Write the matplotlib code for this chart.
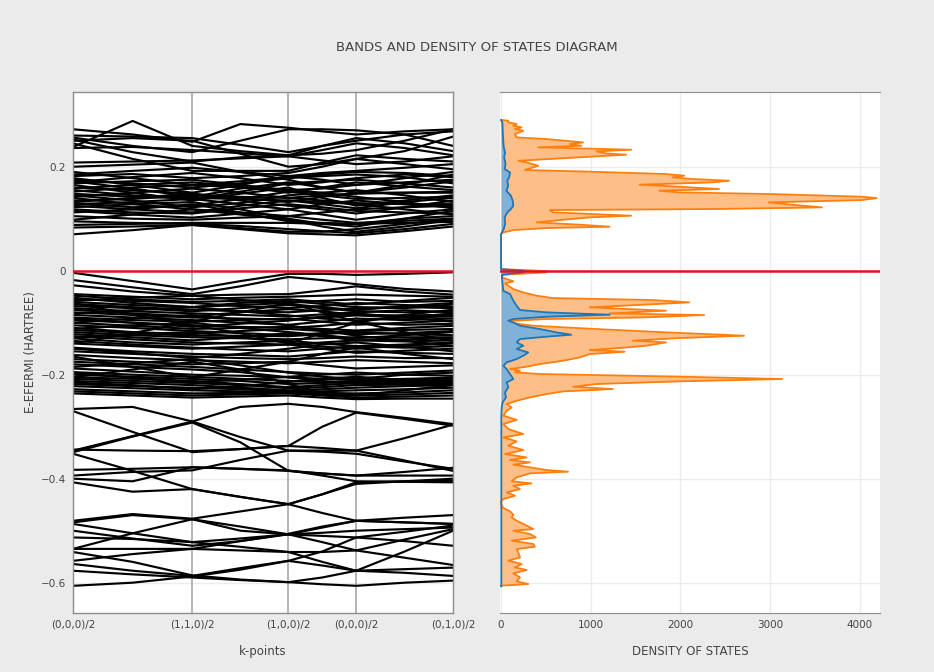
"""
Bands and density of states diagram
"""
import matplotlib
matplotlib.use("Agg")
import matplotlib.pyplot as plt

plt.rcParams['font.family'] = 'DejaVu Sans'
plt.rcParams['axes.unicode_minus'] = True

# k-path: high-symmetry points and their distance along the path
kpoint_labels = ['(0,0,0)/2', '(1,1,0)/2', '(1,0,0)/2', '(0,0,0)/2', '(0,1,0)/2']
kpoint_pos = [0.0, 0.3137, 0.5667, 0.7451, 1.0]
# energies are read at each high-symmetry point and half way along each segment
k_samples = [0.0, 0.1568, 0.3137, 0.4402, 0.5667, 0.6559, 0.7451, 0.8726, 1.0]

conduction_bands = [
    [0.238, 0.288, 0.240, 0.230, 0.222, 0.225, 0.232, 0.250, 0.272],
    [0.272, 0.262, 0.248, 0.282, 0.275, 0.268, 0.262, 0.268, 0.272],
    [0.256, 0.240, 0.228, 0.250, 0.272, 0.272, 0.270, 0.262, 0.240],
    [0.252, 0.228, 0.210, 0.218, 0.222, 0.240, 0.255, 0.245, 0.230],
    [0.250, 0.255, 0.250, 0.225, 0.200, 0.205, 0.215, 0.230, 0.258],
    [0.245, 0.215, 0.192, 0.192, 0.192, 0.208, 0.222, 0.215, 0.210],
    [0.236, 0.238, 0.232, 0.226, 0.220, 0.232, 0.245, 0.236, 0.222],
    [0.260, 0.258, 0.255, 0.242, 0.228, 0.240, 0.250, 0.262, 0.268],
    [0.208, 0.210, 0.212, 0.216, 0.220, 0.212, 0.205, 0.210, 0.220],
    [0.200, 0.204, 0.208, 0.190, 0.175, 0.160, 0.150, 0.165, 0.185],
    [0.190, 0.178, 0.165, 0.172, 0.180, 0.185, 0.190, 0.188, 0.182],
    [0.185, 0.192, 0.198, 0.190, 0.182, 0.188, 0.192, 0.198, 0.205],
    [0.182, 0.186, 0.178, 0.182, 0.188, 0.200, 0.215, 0.205, 0.195],
    [0.178, 0.165, 0.150, 0.165, 0.182, 0.175, 0.165, 0.170, 0.175],
    [0.175, 0.168, 0.160, 0.168, 0.178, 0.182, 0.185, 0.180, 0.168],
    [0.172, 0.158, 0.142, 0.158, 0.170, 0.160, 0.150, 0.150, 0.150],
    [0.170, 0.180, 0.188, 0.178, 0.165, 0.170, 0.178, 0.185, 0.180],
    [0.168, 0.172, 0.175, 0.165, 0.155, 0.158, 0.165, 0.178, 0.190],
    [0.165, 0.150, 0.135, 0.148, 0.160, 0.140, 0.125, 0.135, 0.145],
    [0.160, 0.155, 0.148, 0.140, 0.132, 0.142, 0.150, 0.160, 0.172],
    [0.158, 0.165, 0.170, 0.162, 0.150, 0.160, 0.170, 0.162, 0.155],
    [0.155, 0.145, 0.138, 0.152, 0.168, 0.172, 0.175, 0.168, 0.160],
    [0.152, 0.160, 0.165, 0.160, 0.155, 0.150, 0.142, 0.132, 0.120],
    [0.148, 0.142, 0.140, 0.138, 0.135, 0.128, 0.120, 0.132, 0.140],
    [0.145, 0.135, 0.122, 0.130, 0.145, 0.150, 0.155, 0.145, 0.132],
    [0.142, 0.150, 0.158, 0.150, 0.140, 0.145, 0.148, 0.150, 0.152],
    [0.140, 0.128, 0.118, 0.112, 0.105, 0.112, 0.118, 0.122, 0.125],
    [0.135, 0.138, 0.145, 0.142, 0.140, 0.135, 0.130, 0.128, 0.128],
    [0.132, 0.140, 0.148, 0.135, 0.125, 0.118, 0.110, 0.122, 0.135],
    [0.130, 0.122, 0.125, 0.138, 0.152, 0.145, 0.138, 0.140, 0.142],
    [0.128, 0.132, 0.138, 0.128, 0.118, 0.108, 0.098, 0.110, 0.118],
    [0.125, 0.118, 0.112, 0.125, 0.135, 0.132, 0.128, 0.118, 0.108],
    [0.122, 0.128, 0.132, 0.118, 0.100, 0.090, 0.085, 0.100, 0.115],
    [0.118, 0.112, 0.110, 0.120, 0.128, 0.122, 0.115, 0.112, 0.110],
    [0.115, 0.108, 0.102, 0.110, 0.118, 0.128, 0.135, 0.128, 0.122],
    [0.112, 0.118, 0.128, 0.112, 0.095, 0.092, 0.090, 0.100, 0.105],
    [0.105, 0.100, 0.098, 0.102, 0.105, 0.098, 0.092, 0.096, 0.100],
    [0.098, 0.108, 0.118, 0.108, 0.098, 0.085, 0.075, 0.085, 0.098],
    [0.095, 0.092, 0.090, 0.086, 0.080, 0.076, 0.072, 0.080, 0.090],
    [0.088, 0.090, 0.092, 0.092, 0.092, 0.090, 0.090, 0.092, 0.094],
    [0.083, 0.085, 0.088, 0.082, 0.075, 0.075, 0.080, 0.090, 0.100],
    [0.070, 0.078, 0.088, 0.080, 0.072, 0.070, 0.068, 0.076, 0.085],
]

valence_bands = [
    [-0.004, -0.020, -0.036, -0.020, -0.006, -0.006, -0.008, -0.006, -0.003],
    [-0.018, -0.032, -0.045, -0.030, -0.012, -0.018, -0.026, -0.035, -0.040],
    [-0.028, -0.040, -0.048, -0.046, -0.045, -0.038, -0.030, -0.040, -0.046],
    [-0.045, -0.050, -0.055, -0.052, -0.050, -0.048, -0.046, -0.048, -0.050],
    [-0.048, -0.055, -0.060, -0.058, -0.055, -0.060, -0.065, -0.058, -0.052],
    [-0.052, -0.062, -0.070, -0.066, -0.062, -0.058, -0.055, -0.060, -0.058],
    [-0.055, -0.058, -0.062, -0.068, -0.072, -0.068, -0.062, -0.066, -0.070],
    [-0.058, -0.052, -0.048, -0.056, -0.064, -0.070, -0.076, -0.068, -0.062],
    [-0.060, -0.066, -0.070, -0.062, -0.058, -0.064, -0.070, -0.072, -0.065],
    [-0.062, -0.085, -0.105, -0.120, -0.140, -0.120, -0.100, -0.085, -0.075],
    [-0.064, -0.070, -0.075, -0.078, -0.080, -0.076, -0.072, -0.070, -0.072],
    [-0.068, -0.072, -0.078, -0.072, -0.066, -0.072, -0.078, -0.080, -0.078],
    [-0.072, -0.078, -0.082, -0.085, -0.088, -0.084, -0.080, -0.076, -0.080],
    [-0.075, -0.082, -0.088, -0.080, -0.074, -0.078, -0.085, -0.086, -0.085],
    [-0.080, -0.085, -0.090, -0.092, -0.094, -0.090, -0.086, -0.090, -0.088],
    [-0.082, -0.076, -0.070, -0.078, -0.086, -0.092, -0.096, -0.090, -0.082],
    [-0.085, -0.090, -0.095, -0.100, -0.104, -0.098, -0.092, -0.095, -0.092],
    [-0.090, -0.095, -0.098, -0.095, -0.092, -0.098, -0.104, -0.100, -0.096],
    [-0.092, -0.100, -0.108, -0.102, -0.096, -0.088, -0.082, -0.090, -0.098],
    [-0.095, -0.100, -0.105, -0.108, -0.110, -0.106, -0.100, -0.104, -0.102],
    [-0.100, -0.092, -0.085, -0.095, -0.105, -0.115, -0.125, -0.135, -0.145],
    [-0.100, -0.106, -0.112, -0.110, -0.108, -0.112, -0.115, -0.110, -0.106],
    [-0.105, -0.110, -0.116, -0.120, -0.124, -0.120, -0.116, -0.114, -0.112],
    [-0.110, -0.118, -0.122, -0.116, -0.112, -0.116, -0.122, -0.120, -0.116],
    [-0.112, -0.105, -0.100, -0.110, -0.118, -0.124, -0.130, -0.124, -0.118],
    [-0.114, -0.120, -0.125, -0.125, -0.126, -0.122, -0.118, -0.122, -0.124],
    [-0.118, -0.124, -0.128, -0.130, -0.132, -0.130, -0.128, -0.128, -0.128],
    [-0.122, -0.128, -0.134, -0.128, -0.120, -0.126, -0.134, -0.132, -0.130],
    [-0.126, -0.132, -0.138, -0.140, -0.142, -0.138, -0.134, -0.136, -0.134],
    [-0.128, -0.122, -0.118, -0.128, -0.138, -0.146, -0.150, -0.144, -0.140],
    [-0.130, -0.138, -0.142, -0.138, -0.135, -0.140, -0.145, -0.142, -0.138],
    [-0.135, -0.142, -0.148, -0.152, -0.155, -0.150, -0.145, -0.148, -0.145],
    [-0.140, -0.120, -0.098, -0.080, -0.062, -0.080, -0.098, -0.118, -0.135],
    [-0.140, -0.145, -0.150, -0.146, -0.142, -0.150, -0.158, -0.154, -0.150],
    [-0.148, -0.155, -0.160, -0.162, -0.165, -0.160, -0.155, -0.158, -0.160],
    [-0.150, -0.158, -0.168, -0.160, -0.150, -0.142, -0.138, -0.146, -0.155],
    [-0.155, -0.160, -0.165, -0.168, -0.170, -0.168, -0.165, -0.168, -0.168],
    [-0.162, -0.168, -0.172, -0.175, -0.178, -0.175, -0.172, -0.175, -0.178],
    [-0.165, -0.185, -0.205, -0.190, -0.175, -0.160, -0.148, -0.160, -0.170],
    [-0.170, -0.175, -0.180, -0.178, -0.175, -0.182, -0.188, -0.185, -0.182],
    [-0.175, -0.180, -0.185, -0.190, -0.195, -0.198, -0.200, -0.196, -0.192],
    [-0.180, -0.185, -0.190, -0.195, -0.205, -0.212, -0.218, -0.210, -0.205],
    [-0.185, -0.178, -0.170, -0.182, -0.196, -0.204, -0.208, -0.200, -0.196],
    [-0.188, -0.194, -0.200, -0.202, -0.205, -0.208, -0.210, -0.208, -0.206],
    [-0.195, -0.200, -0.204, -0.208, -0.212, -0.214, -0.212, -0.210, -0.208],
    [-0.196, -0.206, -0.214, -0.210, -0.204, -0.200, -0.196, -0.200, -0.202],
    [-0.200, -0.204, -0.208, -0.212, -0.218, -0.216, -0.214, -0.212, -0.212],
    [-0.205, -0.190, -0.175, -0.190, -0.218, -0.235, -0.240, -0.230, -0.220],
    [-0.205, -0.208, -0.212, -0.218, -0.224, -0.220, -0.216, -0.216, -0.216],
    [-0.208, -0.212, -0.216, -0.220, -0.226, -0.224, -0.220, -0.219, -0.218],
    [-0.212, -0.216, -0.220, -0.225, -0.230, -0.228, -0.225, -0.222, -0.220],
    [-0.215, -0.220, -0.228, -0.222, -0.214, -0.208, -0.204, -0.210, -0.214],
    [-0.218, -0.222, -0.225, -0.228, -0.232, -0.232, -0.230, -0.228, -0.225],
    [-0.222, -0.226, -0.230, -0.232, -0.234, -0.235, -0.236, -0.234, -0.230],
    [-0.228, -0.232, -0.236, -0.235, -0.234, -0.238, -0.240, -0.238, -0.235],
    [-0.232, -0.236, -0.240, -0.238, -0.236, -0.240, -0.244, -0.242, -0.240],
    [-0.236, -0.240, -0.244, -0.242, -0.240, -0.244, -0.247, -0.246, -0.246],
]

lower_bands = [
    [-0.266, -0.262, -0.290, -0.262, -0.256, -0.262, -0.272, -0.283, -0.295],
    [-0.270, -0.310, -0.349, -0.343, -0.337, -0.300, -0.273, -0.285, -0.298],
    [-0.346, -0.318, -0.290, -0.320, -0.346, -0.346, -0.346, -0.322, -0.296],
    [-0.349, -0.319, -0.292, -0.330, -0.385, -0.390, -0.394, -0.387, -0.379],
    [-0.344, -0.346, -0.347, -0.343, -0.337, -0.341, -0.346, -0.365, -0.385],
    [-0.352, -0.385, -0.420, -0.435, -0.449, -0.466, -0.481, -0.484, -0.487],
    [-0.383, -0.381, -0.378, -0.381, -0.385, -0.390, -0.394, -0.394, -0.394],
    [-0.394, -0.387, -0.384, -0.364, -0.346, -0.348, -0.352, -0.367, -0.381],
    [-0.407, -0.425, -0.420, -0.435, -0.449, -0.430, -0.407, -0.405, -0.404],
    [-0.400, -0.405, -0.378, -0.381, -0.384, -0.394, -0.405, -0.406, -0.407],
    [-0.481, -0.468, -0.477, -0.463, -0.449, -0.430, -0.410, -0.405, -0.400],
    [-0.484, -0.470, -0.478, -0.500, -0.507, -0.494, -0.481, -0.484, -0.487],
    [-0.487, -0.505, -0.522, -0.515, -0.507, -0.504, -0.500, -0.497, -0.494],
    [-0.500, -0.515, -0.529, -0.520, -0.507, -0.510, -0.513, -0.520, -0.529],
    [-0.513, -0.516, -0.522, -0.531, -0.541, -0.541, -0.538, -0.517, -0.497],
    [-0.535, -0.505, -0.478, -0.492, -0.507, -0.522, -0.538, -0.552, -0.566],
    [-0.535, -0.535, -0.535, -0.538, -0.541, -0.560, -0.577, -0.540, -0.500],
    [-0.541, -0.560, -0.586, -0.594, -0.599, -0.590, -0.577, -0.581, -0.587],
    [-0.558, -0.545, -0.535, -0.520, -0.506, -0.492, -0.481, -0.475, -0.470],
    [-0.564, -0.577, -0.587, -0.572, -0.558, -0.567, -0.577, -0.574, -0.571],
    [-0.577, -0.584, -0.590, -0.595, -0.599, -0.603, -0.606, -0.600, -0.596],
    [-0.606, -0.600, -0.588, -0.575, -0.558, -0.540, -0.513, -0.502, -0.490],
]

# total density of states (orange) against energy
dos_total_energy = [
    0.2900, 0.2885, 0.2853, 0.2821, 0.2788, 0.2756, 0.2724, 0.2692, 0.2628, 0.2564,
    0.2532, 0.2468, 0.2436, 0.2404, 0.2372, 0.2327, 0.2295, 0.2256, 0.2231, 0.2192,
    0.2147, 0.2115, 0.2083, 0.2019, 0.1936, 0.1910, 0.1859, 0.1827, 0.1795, 0.1763,
    0.1731, 0.1699, 0.1654, 0.1615, 0.1571, 0.1538, 0.1506, 0.1474, 0.1423, 0.1397,
    0.1359, 0.1314, 0.1269, 0.1218, 0.1186, 0.1167, 0.1122, 0.1058, 0.1026, 0.0974,
    0.0929, 0.0885, 0.0846, 0.0821, 0.0782, 0.0737, 0.0705, 0.0100, 0.0030, 0.0010,
    -0.0010, -0.0032, -0.0077, -0.0128, -0.0160, -0.0205, -0.0244, -0.0288, -0.0353, -0.0417,
    -0.0481, -0.0526, -0.0564, -0.0609, -0.0641, -0.0705, -0.0769, -0.0821, -0.0853, -0.0897,
    -0.0929, -0.0962, -0.0994, -0.1026, -0.1058, -0.1122, -0.1186, -0.1250, -0.1295, -0.1346,
    -0.1378, -0.1442, -0.1487, -0.1526, -0.1558, -0.1603, -0.1667, -0.1731, -0.1795, -0.1846,
    -0.1891, -0.1923, -0.1955, -0.1987, -0.2038, -0.2083, -0.2128, -0.2179, -0.2231, -0.2276,
    -0.2321, -0.2372, -0.2436, -0.2500, -0.2564, -0.2628, -0.2692, -0.2788, -0.2869, -0.2949,
    -0.3045, -0.3141, -0.3205, -0.3282, -0.3365, -0.3449, -0.3526, -0.3590, -0.3641, -0.3686,
    -0.3731, -0.3782, -0.3833, -0.3865, -0.3897, -0.3974, -0.4051, -0.4090, -0.4135, -0.4199,
    -0.4263, -0.4327, -0.4391, -0.4436, -0.4487, -0.4564, -0.4628, -0.4692, -0.4744, -0.4808,
    -0.4885, -0.4968, -0.5000, -0.5064, -0.5128, -0.5192, -0.5256, -0.5308, -0.5353, -0.5417,
    -0.5513, -0.5577, -0.5641, -0.5705, -0.5756, -0.5821, -0.5897, -0.5974, -0.6026, -0.6058,
]
dos_total = [
    0, 80, 81, 174, 137, 230, 155, 248, 155, 174,
    507, 914, 766, 896, 414, 1450, 1062, 1173, 1395, 988,
    507, 192, 285, 414, 266, 877, 1839, 2042, 1913, 2135,
    2542, 2357, 1543, 1987, 2431, 1765, 1987, 3023, 4022, 4188,
    4022, 2986, 3245, 3578, 2357, 544, 581, 1450, 988, 655,
    396, 877, 1210, 507, 137, 26, 0, 0, 0, 300,
    507, 507, 26, 7, 63, 137, 44, 81, 137, 248,
    396, 581, 1691, 2098, 1728, 988, 1839, 1210, 2264, 1617,
    507, 137, 100, 211, 359, 1062, 1839, 2708, 1987, 1469,
    1839, 1617, 1321, 988, 1376, 988, 877, 692, 433, 285,
    100, 211, 155, 433, 1987, 3134, 1987, 1062, 803, 1247,
    692, 507, 322, 174, 63, 118, 63, 26, 174, 26,
    81, 248, 26, 174, 81, 248, 44, 285, 100, 322,
    137, 322, 507, 747, 322, 174, 118, 340, 137, 211,
    63, 155, 26, 0, 0, 26, 100, 137, 118, 174,
    266, 359, 137, 322, 388, 118, 359, 377, 174, 192,
    211, 81, 230, 155, 285, 137, 211, 174, 303, 0,
]

# partial density of states (blue) against energy
dos_partial_energy = [
    0.2897, 0.2853, 0.2628, 0.2372, 0.2276, 0.2179, 0.2051, 0.1955, 0.1891, 0.1795,
    0.1731, 0.1635, 0.1538, 0.1442, 0.1346, 0.1250, 0.1186, 0.1122, 0.1026, 0.0897,
    0.0801, 0.0737, 0.0705, 0.0030, 0.0000, -0.0032, -0.0077, -0.0128, -0.0385, -0.0449,
    -0.0577, -0.0673, -0.0756, -0.0801, -0.0846, -0.0885, -0.0929, -0.0962, -0.0994, -0.1058,
    -0.1122, -0.1186, -0.1231, -0.1269, -0.1314, -0.1378, -0.1442, -0.1506, -0.1571, -0.1635,
    -0.1699, -0.1763, -0.1827, -0.1891, -0.1987, -0.2083, -0.2147, -0.2244, -0.2340, -0.2436,
    -0.2532, -0.2628, -0.2800, -0.6058, -0.6070,
]
dos_partial = [
    0, 15, 20, 30, 45, 35, 50, 40, 100, 90,
    70, 80, 60, 110, 130, 137, 110, 70, 40, 45,
    30, 10, 0, 0, 250, 250, 10, 10, 25, 100,
    137, 174, 211, 507, 1210, 507, 137, 81, 137, 211,
    433, 618, 784, 507, 211, 174, 248, 174, 303, 248,
    174, 63, 26, 63, 100, 137, 63, 81, 44, 55,
    18, 7, 3, 3, 0,
]

yticks = [0.2, 0.0, -0.2, -0.4, -0.6]
ylim = (-0.6583, 0.3437)
dos_ticks = [0, 1000, 2000, 3000, 4000]

TEXT = '#444444'
FRAME = '#8c8c8c'
GRID = '#ececec'


def style_axis(ax):
    ax.set_facecolor('white')
    ax.set_ylim(*ylim)
    ax.set_yticks(yticks)
    ax.tick_params(length=0, colors=TEXT, labelsize=7.5, pad=5)
    ax.grid(axis='y', color=GRID, linewidth=1.0, zorder=0)
    ax.set_axisbelow(True)


def create_figure():
    fig = plt.figure(figsize=(9.34, 6.72), dpi=100)
    fig.patch.set_facecolor('#ebebeb')

    # left panel: band structure
    ax = fig.add_axes([0.0782, 0.0878, 0.4069, 0.7753])
    style_axis(ax)
    ax.set_xlim(kpoint_pos[0], kpoint_pos[-1])
    ax.set_xticks(kpoint_pos)
    ax.set_xticklabels(kpoint_labels)
    ax.set_yticklabels(['0.2', '0', '\u22120.2', '\u22120.4', '\u22120.6'])
    for k in kpoint_pos[1:-1]:
        ax.axvline(k, color='#a0a0a0', linewidth=1.1, zorder=1)
    for band in conduction_bands + valence_bands + lower_bands:
        ax.plot(k_samples, band, color='black', linewidth=1.55, zorder=2)
    ax.axhline(0, color='#e0141e', linewidth=1.8, zorder=3)
    for side in ax.spines.values():
        side.set_color(FRAME)
        side.set_linewidth(1.0)
    ax.set_xlabel('k-points', color=TEXT, fontsize=8.5, labelpad=11)
    ax.set_ylabel('E-EFERMI (HARTREE)', color=TEXT, fontsize=8.5, labelpad=3)

    # right panel: density of states
    ax2 = fig.add_axes([0.5353, 0.0878, 0.4069, 0.7753])
    style_axis(ax2)
    ax2.set_yticklabels([])
    ax2.set_xlim(-12, 4225)
    ax2.set_xticks(dos_ticks)
    ax2.set_xticklabels([str(t) for t in dos_ticks])
    ax2.grid(axis='x', color=GRID, linewidth=1.0, zorder=0)
    ax2.fill_betweenx(dos_total_energy, 0, dos_total, color='#fdbf87', linewidth=0, zorder=2)
    ax2.plot(dos_total, dos_total_energy, color='#ff7f0e', linewidth=1.3, zorder=3)
    ax2.fill_betweenx(dos_partial_energy, 0, dos_partial, color='#7fb1d9', linewidth=0, zorder=4)
    ax2.plot(dos_partial, dos_partial_energy, color='#1f77b4', linewidth=1.3, zorder=5)
    ax2.axhline(0, color='#e0141e', linewidth=1.8, zorder=6)
    ax2.spines['left'].set_visible(False)
    ax2.spines['right'].set_visible(False)
    ax2.spines['top'].set_color(FRAME)
    ax2.spines['bottom'].set_color(FRAME)
    ax2.set_xlabel('DENSITY OF STATES', color=TEXT, fontsize=8.5, labelpad=11)

    fig.text(0.511, 0.930, 'BANDS AND DENSITY OF STATES DIAGRAM', ha='center', va='center',
             color=TEXT, fontsize=9.5)

    fig.savefig('out.png', dpi=100, facecolor=fig.get_facecolor())
    plt.close(fig)


if __name__ == "__main__":
    create_figure()
